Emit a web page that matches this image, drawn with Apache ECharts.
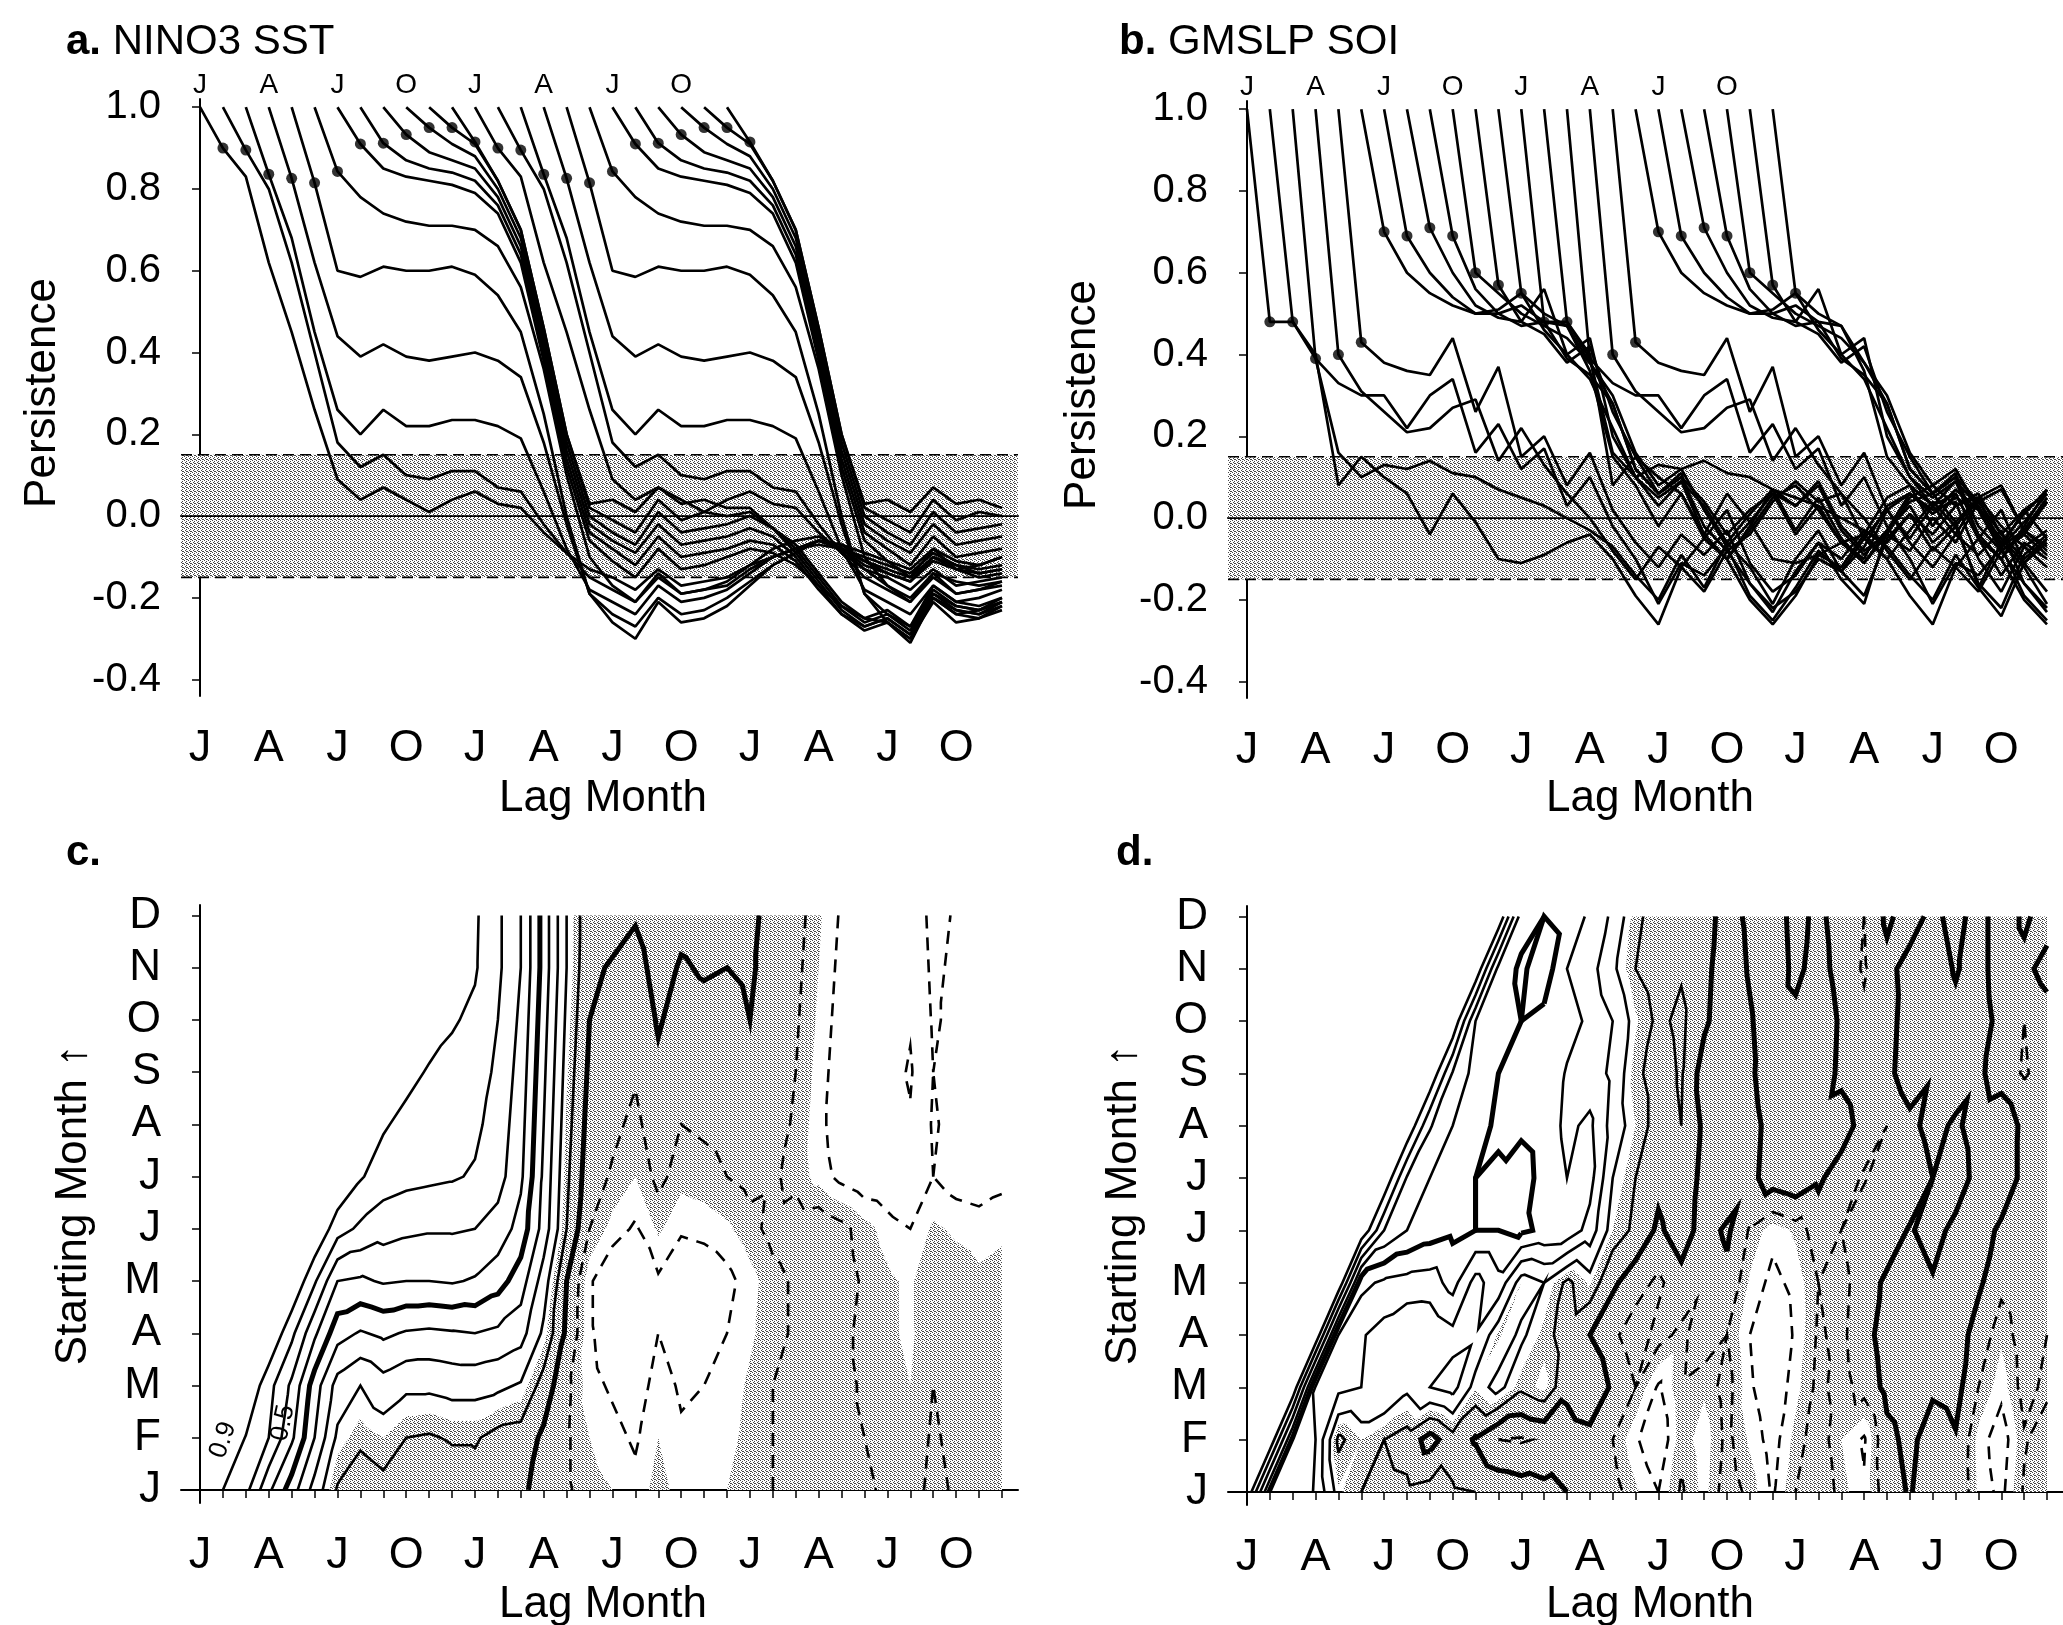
<!DOCTYPE html>
<html>
<head>
<meta charset="utf-8">
<script src="https://cdn.jsdelivr.net/npm/echarts@6/dist/echarts.min.js"></script>
<style>
html, body { margin: 0; padding: 0; background: #fff; }
#main { width: 2063px; height: 1625px; }
</style>
</head>
<body>
<div id="main"></div>
<script>
// month letters for the lag axis and the starting-month axis
var monthLetters = ['J', 'F', 'M', 'A', 'M', 'J', 'J', 'A', 'S', 'O', 'N', 'D']
var lagLabelTicks = [0, 3, 6, 9, 12, 15, 18, 21, 24, 27, 30, 33]
var startLabelTicks = [0, 3, 6, 9, 12, 15, 18, 21]
var monthTicks = []
for (var i = 0; i <= 35; i++) monthTicks.push(i)
var rowTicks = [0, 1, 2, 3, 4, 5, 6, 7, 8, 9, 10, 11]
var persistTicks = [-0.4, -0.2, 0, 0.2, 0.4, 0.6, 0.8, 1.0]
var bandLimits = [-0.15, 0.15]
var contourLevels = [-0.3, -0.2, -0.1, 0, 0.1, 0.2, 0.3, 0.4, 0.5, 0.6, 0.7, 0.8, 0.9]
var thickLevels = [0, 0.5]

// NINO3 SST persistence, one row per starting month (J..D), from lag 0 up to lag month 35
var nino3Rows = [
    [1.00, 0.90, 0.83, 0.62, 0.45, 0.26, 0.09, 0.04, 0.07, 0.04, 0.01, 0.04, 0.06, 0.03, 0.02, -0.04, -0.09, -0.13, -0.15, -0.18, -0.13, -0.17, -0.16, -0.15, -0.12, -0.10, -0.08, -0.06, -0.07, -0.09, -0.11, -0.13, -0.08, -0.11, -0.12, -0.10],
    [1.00, 0.895, 0.80, 0.62, 0.40, 0.18, 0.12, 0.15, 0.10, 0.09, 0.11, 0.11, 0.07, 0.06, -0.02, -0.09, -0.15, -0.18, -0.21, -0.15, -0.19, -0.18, -0.17, -0.13, -0.10, -0.08, -0.07, -0.08, -0.10, -0.12, -0.14, -0.09, -0.12, -0.13, -0.12],
    [1.00, 0.836, 0.68, 0.45, 0.26, 0.20, 0.26, 0.22, 0.22, 0.235, 0.235, 0.22, 0.19, 0.06, -0.08, -0.18, -0.21, -0.24, -0.17, -0.21, -0.20, -0.18, -0.14, -0.10, -0.08, -0.06, -0.08, -0.11, -0.13, -0.15, -0.10, -0.13, -0.14, -0.13],
    [1.00, 0.826, 0.62, 0.44, 0.39, 0.42, 0.39, 0.38, 0.39, 0.40, 0.38, 0.34, 0.18, -0.02, -0.19, -0.24, -0.27, -0.20, -0.24, -0.23, -0.20, -0.16, -0.12, -0.09, -0.06, -0.08, -0.12, -0.14, -0.16, -0.11, -0.13, -0.15, -0.14],
    [1.00, 0.815, 0.60, 0.585, 0.61, 0.60, 0.60, 0.61, 0.59, 0.54, 0.45, 0.25, 0.00, -0.19, -0.26, -0.30, -0.21, -0.26, -0.25, -0.22, -0.17, -0.12, -0.09, -0.06, -0.07, -0.11, -0.14, -0.16, -0.10, -0.12, -0.14, -0.13],
    [1.00, 0.843, 0.78, 0.74, 0.72, 0.71, 0.71, 0.70, 0.66, 0.56, 0.36, 0.10, -0.10, -0.17, -0.21, -0.14, -0.19, -0.18, -0.16, -0.12, -0.08, -0.06, -0.05, -0.08, -0.13, -0.17, -0.20, -0.14, -0.16, -0.17, -0.16],
    [1.00, 0.91, 0.85, 0.83, 0.82, 0.81, 0.79, 0.74, 0.62, 0.38, 0.12, -0.06, -0.11, -0.15, -0.08, -0.13, -0.12, -0.10, -0.08, -0.09, -0.12, -0.17, -0.22, -0.25, -0.26, -0.30, -0.20, -0.23, -0.24, -0.22],
    [1.00, 0.912, 0.87, 0.85, 0.84, 0.82, 0.76, 0.64, 0.40, 0.14, -0.04, -0.08, -0.12, -0.05, -0.10, -0.09, -0.08, -0.06, -0.07, -0.11, -0.18, -0.24, -0.27, -0.25, -0.29, -0.19, -0.23, -0.24, -0.21],
    [1.00, 0.933, 0.89, 0.87, 0.85, 0.78, 0.66, 0.42, 0.16, -0.02, -0.06, -0.09, -0.02, -0.07, -0.06, -0.05, -0.03, -0.05, -0.10, -0.17, -0.24, -0.28, -0.26, -0.31, -0.20, -0.24, -0.25, -0.23],
    [1.00, 0.95, 0.91, 0.88, 0.80, 0.68, 0.44, 0.18, 0.00, -0.04, -0.07, 0.01, -0.04, -0.03, -0.02, 0.00, -0.03, -0.09, -0.16, -0.23, -0.27, -0.25, -0.29, -0.19, -0.22, -0.23, -0.21],
    [1.00, 0.95, 0.91, 0.82, 0.70, 0.46, 0.20, 0.02, -0.01, -0.04, 0.04, -0.01, 0.01, 0.00, 0.01, -0.03, -0.08, -0.15, -0.22, -0.26, -0.24, -0.28, -0.18, -0.22, -0.23, -0.21],
    [1.00, 0.915, 0.82, 0.70, 0.46, 0.20, 0.03, 0.04, 0.01, 0.07, 0.03, 0.04, 0.02, 0.02, -0.03, -0.07, -0.14, -0.21, -0.25, -0.23, -0.27, -0.17, -0.21, -0.22, -0.20]
]

// GMSLP SOI persistence, same layout
var soiRows = [
    [1.00, 0.48, 0.48, 0.39, 0.16, 0.10, 0.13, 0.12, 0.14, 0.11, 0.10, 0.07, 0.05, 0.03, 0.00, -0.03, -0.07, -0.14, -0.20, -0.09, -0.17, -0.06, -0.12, -0.21, -0.10, -0.03, -0.13, -0.19, -0.05, 0.01, -0.08, -0.02, -0.16, -0.22, -0.09, -0.04],
    [1.00, 0.48, 0.40, 0.08, 0.15, 0.10, 0.06, -0.04, 0.06, -0.01, -0.10, -0.11, -0.09, -0.06, -0.04, -0.10, -0.19, -0.26, -0.12, -0.18, -0.08, -0.16, -0.23, -0.13, -0.06, -0.15, -0.21, -0.03, 0.03, -0.06, -0.01, -0.17, -0.24, -0.11, -0.05],
    [1.00, 0.39, 0.33, 0.30, 0.30, 0.22, 0.30, 0.34, 0.16, 0.23, 0.12, 0.17, 0.03, 0.10, -0.02, -0.10, -0.21, -0.11, -0.14, -0.07, -0.19, -0.25, -0.17, -0.08, -0.13, -0.07, 0.03, 0.06, 0.02, 0.04, -0.10, -0.18, -0.07, -0.12],
    [1.00, 0.40, 0.31, 0.26, 0.21, 0.22, 0.27, 0.29, 0.14, 0.22, 0.13, 0.06, 0.00, -0.08, -0.15, -0.07, -0.12, -0.05, -0.10, -0.20, -0.26, -0.19, -0.09, -0.12, -0.04, 0.05, 0.08, 0.03, 0.06, -0.05, -0.14, -0.06, -0.10],
    [1.00, 0.43, 0.38, 0.36, 0.35, 0.44, 0.26, 0.37, 0.15, 0.20, 0.08, 0.16, 0.02, -0.06, -0.12, -0.04, -0.09, -0.03, -0.16, -0.22, -0.18, -0.10, -0.13, -0.05, 0.02, 0.06, 0.01, 0.05, 0.02, -0.08, -0.04, -0.09],
    [1.00, 0.70, 0.60, 0.55, 0.52, 0.50, 0.50, 0.52, 0.48, 0.47, 0.36, 0.15, 0.08, -0.02, 0.06, -0.05, 0.02, -0.11, -0.18, -0.14, -0.06, -0.10, -0.03, -0.06, 0.01, -0.04, 0.03, 0.05, -0.02, -0.07, -0.03],
    [1.00, 0.69, 0.60, 0.54, 0.50, 0.51, 0.55, 0.46, 0.40, 0.44, 0.20, 0.10, 0.03, 0.09, -0.04, -0.10, -0.03, 0.05, 0.08, 0.02, -0.06, -0.11, -0.04, -0.08, 0.00, -0.06, 0.04, 0.07, -0.03, -0.07],
    [1.00, 0.71, 0.60, 0.52, 0.49, 0.48, 0.45, 0.38, 0.42, 0.26, 0.15, 0.06, 0.10, -0.02, -0.08, -0.04, 0.04, 0.09, 0.04, 0.06, -0.05, -0.10, -0.03, 0.04, -0.02, 0.05, 0.08, -0.03, -0.08],
    [1.00, 0.69, 0.56, 0.50, 0.47, 0.48, 0.39, 0.35, 0.28, 0.12, 0.06, 0.11, -0.05, -0.10, -0.02, 0.07, 0.03, 0.08, -0.03, -0.09, -0.03, 0.06, 0.01, 0.07, 0.02, -0.05, -0.11, -0.06],
    [1.00, 0.60, 0.55, 0.50, 0.47, 0.44, 0.38, 0.30, 0.16, 0.08, 0.12, 0.02, -0.07, -0.01, 0.06, 0.03, 0.09, -0.02, -0.08, -0.04, 0.05, 0.08, 0.03, 0.06, -0.04, -0.10, -0.05],
    [1.00, 0.57, 0.48, 0.56, 0.40, 0.34, 0.22, 0.10, 0.05, 0.09, 0.03, -0.06, 0.01, 0.07, -0.03, 0.05, -0.05, -0.11, -0.03, 0.04, 0.06, -0.01, 0.05, -0.07, -0.03, 0.04],
    [1.00, 0.55, 0.50, 0.47, 0.38, 0.28, 0.12, 0.06, 0.10, 0.04, -0.04, 0.02, 0.06, -0.04, 0.03, -0.06, -0.10, 0.02, -0.05, 0.03, -0.04, 0.05, -0.07, 0.02, -0.05]
]

var font = 'Liberation Sans, Arial, Helvetica, sans-serif'

// stipple fill like the printed screen
var pat = document.createElement('canvas')
pat.width = 4
pat.height = 4
var pc = pat.getContext('2d')
pc.fillStyle = '#ffffff'
pc.fillRect(0, 0, 4, 4)
pc.fillStyle = '#474747'
;[[0, 0], [2, 1], [1, 2], [3, 3], [2, 3]].forEach(function(q) { pc.fillRect(q[0], q[1], 1, 1) })
var stipple = { image: pat, repeat: 'repeat' }

function val(rows, t, m) {
    return rows[m][t - m]
}

// lines for panels a / b: each starting month drawn twice (year 1 and year 2)
function lineSeries(rows, g) {
    var out = []
    var dots = []
    for (var s = 0; s < 24; s++) {
        var m = s % 12
        var off = s - m
        var pts = []
        for (var t = m; t <= 35; t++) {
            if (t + off > 35) break
            pts.push([t + off, val(rows, t, m)])
        }
        dots.push([s + 1, val(rows, m + 1, m)])
        out.push({
            type: 'line', xAxisIndex: g, yAxisIndex: g, data: pts,
            symbol: 'none', showSymbol: false, silent: true, z: 3,
            lineStyle: { color: '#000', width: 2.7 }
        })
    }
    out.push({
        type: 'scatter', xAxisIndex: g, yAxisIndex: g, data: dots, silent: true, z: 4,
        symbol: 'circle', symbolSize: 11, itemStyle: { color: '#000' }
    })
    return out
}

function bandSeries(g) {
    return {
        type: 'custom', xAxisIndex: g, yAxisIndex: g, data: [[0, 0]], silent: true, z: 1,
        renderItem: function(params, api) {
            var cs = params.coordSys
            var yLo = api.coord([0, bandLimits[0]])[1]
            var yHi = api.coord([0, bandLimits[1]])[1]
            var y0 = api.coord([0, 0])[1]
            var x1 = cs.x, x2 = cs.x + cs.width
            return {
                type: 'group', children: [
                    { type: 'rect', shape: { x: x1, y: yHi, width: x2 - x1, height: yLo - yHi }, style: { fill: stipple } },
                    { type: 'line', shape: { x1: x1, y1: yHi, x2: x2, y2: yHi }, style: { stroke: '#000', lineWidth: 1.6, lineDash: [11, 6] } },
                    { type: 'line', shape: { x1: x1, y1: yLo, x2: x2, y2: yLo }, style: { stroke: '#000', lineWidth: 1.6, lineDash: [11, 6] } },
                    { type: 'line', shape: { x1: x1, y1: y0, x2: x2, y2: y0 }, style: { stroke: '#000', lineWidth: 1.6 } }
                ]
            }
        }
    }
}

// triangles over (lag month, starting month) where data exist
function triangles(rows) {
    var tris = []
    for (var m = 0; m < 11; m++) {
        for (var t = m; t < 35; t++) {
            tris.push([[t, m, val(rows, t, m)], [t + 1, m, val(rows, t + 1, m)], [t + 1, m + 1, val(rows, t + 1, m + 1)]])
            if (t >= m + 1) {
                tris.push([[t, m, val(rows, t, m)], [t + 1, m + 1, val(rows, t + 1, m + 1)], [t, m + 1, val(rows, t, m + 1)]])
            }
        }
    }
    return tris
}

function clipPoly(poly, level, keepAbove) {
    var out = []
    for (var k = 0; k < poly.length; k++) {
        var a = poly[k], b = poly[(k + 1) % poly.length]
        var ina = keepAbove ? a[2] >= level : a[2] <= level
        var inb = keepAbove ? b[2] >= level : b[2] <= level
        if (ina) out.push(a)
        if (ina !== inb) {
            var f = (level - a[2]) / (b[2] - a[2])
            out.push([a[0] + f * (b[0] - a[0]), a[1] + f * (b[1] - a[1]), level])
        }
    }
    return out
}

function edgeKey(a, b) {
    var ka = a[0] + ',' + a[1], kb = b[0] + ',' + b[1]
    return ka < kb ? ka + '|' + kb : kb + '|' + ka
}

function traceLevel(tris, L) {
    var segs = []
    tris.forEach(function(tr) {
        var cross = []
        for (var k = 0; k < 3; k++) {
            var a = tr[k], b = tr[(k + 1) % 3]
            if ((a[2] > L) !== (b[2] > L)) {
                var f = (L - a[2]) / (b[2] - a[2])
                cross.push({ key: edgeKey(a, b), p: [a[0] + f * (b[0] - a[0]), a[1] + f * (b[1] - a[1])] })
            }
        }
        if (cross.length === 2) segs.push(cross)
    })
    var byKey = {}
    segs.forEach(function(s, i) {
        s.forEach(function(c) { (byKey[c.key] = byKey[c.key] || []).push(i) })
    })
    var used = []
    function grow(chain) {
        while (true) {
            var last = chain[chain.length - 1]
            var cand = (byKey[last.key] || []).filter(function(j) { return !used[j] })
            if (!cand.length) break
            used[cand[0]] = true
            var s = segs[cand[0]]
            chain.push(s[0].key === last.key ? s[1] : s[0])
        }
    }
    var out = []
    for (var i = 0; i < segs.length; i++) {
        if (used[i]) continue
        used[i] = true
        var chain = [segs[i][0], segs[i][1]]
        grow(chain)
        chain.reverse()
        grow(chain)
        out.push(chain.map(function(c) { return c.p }))
    }
    return out
}

function contourStyle(level) {
    var thick = thickLevels.some(function(v) { return Math.abs(v - level) < 1e-9 })
    if (thick) return { stroke: '#000', lineWidth: 5, fill: 'none' }
    if (level < 0) return { stroke: '#000', lineWidth: 2.6, lineDash: [13, 9], fill: 'none' }
    return { stroke: '#000', lineWidth: 2.6, fill: 'none' }
}

function contourPanel(rows, g) {
    var tris = triangles(rows)
    var polys = []
    tris.forEach(function(tr) {
        var p = clipPoly(clipPoly(tr, bandLimits[0], true), bandLimits[1], false)
        if (p.length >= 3) polys.push(p)
    })
    var lines = []
    contourLevels.forEach(function(L) {
        traceLevel(tris, L).forEach(function(pts) { lines.push({ level: L, pts: pts }) })
    })
    var shade = {
        type: 'custom', xAxisIndex: g, yAxisIndex: g, data: [[0, 0]], silent: true, z: 1, clip: true,
        renderItem: function(params, api) {
            var d = ''
            polys.forEach(function(p) {
                p.forEach(function(q, k) {
                    var c = api.coord([q[0], q[1]])
                    d += (k ? 'L' : 'M') + c[0].toFixed(2) + ' ' + c[1].toFixed(2)
                })
                d += 'Z'
            })
            return { type: 'path', shape: { pathData: d }, style: { fill: stipple } }
        }
    }
    var cont = {
        type: 'custom', xAxisIndex: g, yAxisIndex: g, silent: true, z: 2, clip: true,
        data: lines.map(function(l, i) { return [0, 0, i] }),
        encode: { x: 0, y: 1 },
        renderItem: function(params, api) {
            var l = lines[api.value(2)]
            var pts = l.pts.map(function(q) { return api.coord(q) })
            return { type: 'polyline', shape: { points: pts }, style: contourStyle(l.level) }
        }
    }
    return [shade, cont]
}

function lagAxis(g) {
    return {
        gridIndex: g, type: 'value', min: -0.83, max: 35.7,
        axisLine: { show: true, lineStyle: { color: '#000', width: 2 } },
        axisTick: { show: true, customValues: monthTicks, length: 8, lineStyle: { color: '#000', width: 1.5 } },
        axisLabel: {
            customValues: lagLabelTicks, margin: 30, fontSize: 45, color: '#000', fontFamily: font,
            formatter: function(v) { return monthLetters[Math.round(v) % 12] }
        },
        splitLine: { show: false }
    }
}

function topAxis(g) {
    return {
        gridIndex: g, type: 'value', position: 'top', min: -0.83, max: 35.7,
        axisLine: { show: false }, axisTick: { show: false }, splitLine: { show: false },
        axisLabel: {
            customValues: startLabelTicks, margin: 0, fontSize: 28, color: '#000', fontFamily: font,
            formatter: function(v) { return monthLetters[Math.round(v) % 12] }
        }
    }
}

function persistAxis(g) {
    return {
        gridIndex: g, type: 'value', min: -0.44, max: 1.02,
        axisLine: { show: true, lineStyle: { color: '#000', width: 2 } },
        axisTick: { show: true, customValues: persistTicks, length: 8, lineStyle: { color: '#000', width: 1.5 } },
        axisLabel: {
            customValues: persistTicks, margin: 20, fontSize: 40, color: '#000', fontFamily: font,
            formatter: function(v) { return v.toFixed(1) }
        },
        splitLine: { show: false }
    }
}

function startAxis(g) {
    return {
        gridIndex: g, type: 'value', min: -0.25, max: 11.2,
        axisLine: { show: true, lineStyle: { color: '#000', width: 2 } },
        axisTick: { show: true, customValues: rowTicks, length: 8, lineStyle: { color: '#000', width: 1.5 } },
        axisLabel: {
            customValues: rowTicks, margin: 20, fontSize: 44, color: '#000', fontFamily: font,
            formatter: function(v) { return monthLetters[Math.round(v)] }
        },
        splitLine: { show: false }
    }
}

function txt(s, x, y, size, opts) {
    var st = { text: s, x: 0, y: 0, fontSize: size, fontFamily: font, fill: '#000', align: 'center', verticalAlign: 'middle' }
    for (var k in (opts || {})) st[k] = opts[k]
    return { type: 'text', x: x, y: y, rotation: (opts && opts.rot) || 0, style: st, silent: true }
}

var boldRich = { b: { fontWeight: 'bold', fontSize: 42, fontFamily: font, fill: '#000' } }

var series = []
series.push(bandSeries(0))
series = series.concat(lineSeries(nino3Rows, 0))
series.push(bandSeries(1))
series = series.concat(lineSeries(soiRows, 1))
series = series.concat(contourPanel(nino3Rows, 2))
series = series.concat(contourPanel(soiRows, 3))

var option = {
    animation: false,
    backgroundColor: '#fff',
    textStyle: { fontFamily: font },
    grid: [
        { left: 181, top: 99, width: 837, height: 597 },
        { left: 1228, top: 101, width: 839, height: 597 },
        { left: 181, top: 905, width: 837, height: 598 },
        { left: 1228, top: 906, width: 839, height: 599 }
    ],
    xAxis: [lagAxis(0), lagAxis(1), lagAxis(2), lagAxis(3), topAxis(0), topAxis(1)],
    yAxis: [persistAxis(0), persistAxis(1), startAxis(2), startAxis(3)],
    series: series,
    graphic: [
        txt('{b|a.} NINO3 SST', 66, 42, 42, { align: 'left', rich: boldRich }),
        txt('{b|b.} GMSLP SOI', 1119, 42, 42, { align: 'left', rich: boldRich }),
        txt('{b|c.}', 66, 853, 42, { align: 'left', rich: boldRich }),
        txt('{b|d.}', 1116, 853, 42, { align: 'left', rich: boldRich }),
        txt('Persistence', 43, 393, 44, { rot: Math.PI / 2 }),
        txt('Persistence', 1083, 395, 44, { rot: Math.PI / 2 }),
        txt('Starting Month \u2191', 74, 1205, 44, { rot: Math.PI / 2 }),
        txt('Starting Month \u2191', 1124, 1205, 44, { rot: Math.PI / 2 }),
        txt('Lag Month', 603, 799, 44),
        txt('Lag Month', 1650, 799, 44),
        txt('Lag Month', 603, 1605, 44),
        txt('Lag Month', 1650, 1605, 44),
        txt('0.9', 223, 1440, 26, { rot: 1.25 }),
        txt('0.5', 283, 1423, 26, { rot: 1.35 })
    ]
}

var chart = echarts.init(document.getElementById('main'))
chart.setOption(option)
</script>
</body>
</html>
